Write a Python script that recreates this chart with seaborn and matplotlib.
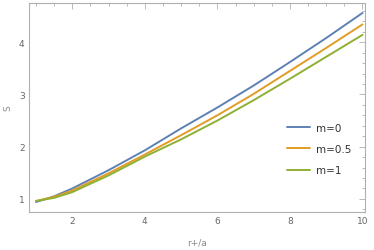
import numpy as np
import pandas as pd
import matplotlib
matplotlib.use("Agg")
import matplotlib.pyplot as plt
import seaborn as sns
from matplotlib.ticker import MultipleLocator

# values
r_a = [1.0, 1.5, 2.0, 3.0, 4.0, 5.0, 6.0, 7.0, 8.0, 9.0, 10.0]
s_m0 = [0.94, 1.05, 1.20, 1.55, 1.93, 2.35, 2.75, 3.17, 3.62, 4.08, 4.56]
s_m05 = [0.96, 1.04, 1.16, 1.49, 1.85, 2.22, 2.60, 3.01, 3.45, 3.89, 4.34]
s_m1 = [0.96, 1.02, 1.13, 1.45, 1.81, 2.14, 2.50, 2.89, 3.30, 3.72, 4.14]
labels = ["m=0", "m=0.5", "m=1"]
colors = ["#5E81B5", "#E19C24", "#8FB032"]

df = pd.concat([
    pd.DataFrame({"r+/a": r_a, "S": s, "m": lab})
    for s, lab in zip([s_m0, s_m05, s_m1], labels)
])

sns.set_style("white")
plt.rcParams['font.family'] = ['DejaVu Sans']

fig = plt.figure(figsize=(3.74, 2.51), dpi=100)
ax = fig.add_axes([0.077, 0.153, 0.899, 0.831])

sns.lineplot(data=df, x="r+/a", y="S", hue="m", palette=colors,
             linewidth=1.4, ax=ax, sort=True)

ax.set_xlim(0.8, 10.07)
ax.set_ylim(0.757, 4.75)

for sp in ax.spines.values():
    sp.set_color("#b0b0b0")
    sp.set_linewidth(0.8)

ax.xaxis.set_major_locator(MultipleLocator(2))
ax.xaxis.set_minor_locator(MultipleLocator(0.5))
ax.yaxis.set_major_locator(MultipleLocator(1))
ax.yaxis.set_minor_locator(MultipleLocator(0.2))
ax.tick_params(which="both", direction="in", top=True, right=True,
               color="#b0b0b0", labelcolor="#666666", labelsize=6.5, width=0.6)
ax.tick_params(which="major", length=4, pad=3)
ax.tick_params(which="minor", length=2)

ax.set_xlabel("r+/a", fontsize=6.5, color="#888888", labelpad=9)
ax.set_ylabel("S", fontsize=6.5, color="#888888", labelpad=5)

leg = ax.legend(loc="center left", bbox_to_anchor=(0.74, 0.30), frameon=False,
                fontsize=7.5, handlelength=2.2, handletextpad=0.6, labelspacing=1.1)
for t in leg.get_texts():
    t.set_color("#333333")

fig.savefig("out.png", dpi=100)
